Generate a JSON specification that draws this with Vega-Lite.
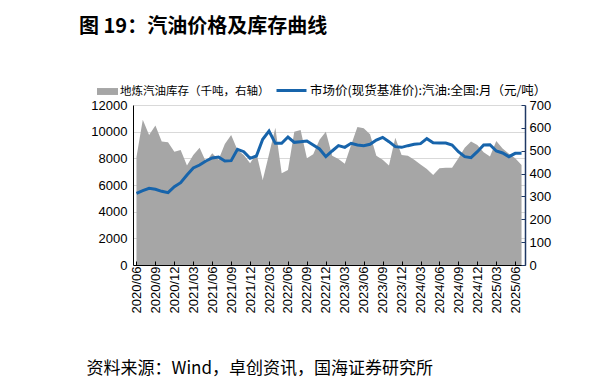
{
  "$schema": "https://vega.github.io/schema/vega-lite/v6.json",
  "width": 392,
  "height": 160,
  "autosize": {"type": "none"},
  "padding": {"left": 133, "top": 105, "right": 87, "bottom": 125},
  "background": "white",
  "config": {"view": {"stroke": null}, "font": "Liberation Sans"},
  "title": {
    "text": "图 19：汽油价格及库存曲线",
    "anchor": "start",
    "frame": "group",
    "dx": -54,
    "dy": 9,
    "offset": 46,
    "fontSize": 20,
    "font": "Noto Sans CJK SC",
    "fontWeight": "bold",
    "color": "#000000"
  },
  "data": {
    "values": [
      {"month": "2020/06", "price": 5375, "inventory": 472},
      {"month": "2020/07", "price": 5575, "inventory": 636},
      {"month": "2020/08", "price": 5750, "inventory": 569},
      {"month": "2020/09", "price": 5675, "inventory": 610},
      {"month": "2020/10", "price": 5525, "inventory": 540},
      {"month": "2020/11", "price": 5425, "inventory": 537},
      {"month": "2020/12", "price": 5875, "inventory": 496},
      {"month": "2021/01", "price": 6175, "inventory": 503},
      {"month": "2021/02", "price": 6750, "inventory": 435},
      {"month": "2021/03", "price": 7275, "inventory": 481},
      {"month": "2021/04", "price": 7500, "inventory": 513},
      {"month": "2021/05", "price": 7800, "inventory": 452},
      {"month": "2021/06", "price": 8025, "inventory": 489},
      {"month": "2021/07", "price": 8100, "inventory": 461},
      {"month": "2021/08", "price": 7800, "inventory": 529},
      {"month": "2021/09", "price": 7825, "inventory": 569},
      {"month": "2021/10", "price": 8675, "inventory": 503},
      {"month": "2021/11", "price": 8500, "inventory": 481},
      {"month": "2021/12", "price": 8000, "inventory": 445},
      {"month": "2022/01", "price": 8175, "inventory": 489},
      {"month": "2022/02", "price": 9425, "inventory": 372},
      {"month": "2022/03", "price": 10050, "inventory": 484},
      {"month": "2022/04", "price": 9125, "inventory": 601},
      {"month": "2022/05", "price": 9125, "inventory": 401},
      {"month": "2022/06", "price": 9600, "inventory": 416},
      {"month": "2022/07", "price": 9200, "inventory": 583},
      {"month": "2022/08", "price": 9250, "inventory": 591},
      {"month": "2022/09", "price": 9300, "inventory": 467},
      {"month": "2022/10", "price": 9000, "inventory": 484},
      {"month": "2022/11", "price": 8700, "inventory": 548},
      {"month": "2022/12", "price": 8125, "inventory": 583},
      {"month": "2023/01", "price": 8550, "inventory": 478},
      {"month": "2023/02", "price": 8950, "inventory": 464},
      {"month": "2023/03", "price": 8825, "inventory": 443},
      {"month": "2023/04", "price": 9125, "inventory": 525},
      {"month": "2023/05", "price": 9000, "inventory": 604},
      {"month": "2023/06", "price": 8950, "inventory": 598},
      {"month": "2023/07", "price": 9050, "inventory": 572},
      {"month": "2023/08", "price": 9375, "inventory": 478},
      {"month": "2023/09", "price": 9575, "inventory": 461},
      {"month": "2023/10", "price": 9250, "inventory": 435},
      {"month": "2023/11", "price": 8875, "inventory": 557},
      {"month": "2023/12", "price": 8825, "inventory": 481},
      {"month": "2024/01", "price": 8950, "inventory": 478},
      {"month": "2024/02", "price": 9050, "inventory": 461},
      {"month": "2024/03", "price": 9100, "inventory": 440},
      {"month": "2024/04", "price": 9475, "inventory": 420},
      {"month": "2024/05", "price": 9175, "inventory": 394},
      {"month": "2024/06", "price": 9150, "inventory": 423},
      {"month": "2024/07", "price": 9150, "inventory": 426},
      {"month": "2024/08", "price": 9000, "inventory": 426},
      {"month": "2024/09", "price": 8500, "inventory": 467},
      {"month": "2024/10", "price": 8125, "inventory": 513},
      {"month": "2024/11", "price": 8050, "inventory": 540},
      {"month": "2024/12", "price": 8500, "inventory": 525},
      {"month": "2025/01", "price": 9000, "inventory": 493},
      {"month": "2025/02", "price": 9025, "inventory": 475},
      {"month": "2025/03", "price": 8550, "inventory": 543},
      {"month": "2025/04", "price": 8400, "inventory": 510},
      {"month": "2025/05", "price": 8125, "inventory": 487},
      {"month": "2025/06", "price": 8375, "inventory": 467},
      {"month": "2025/07", "price": 8375, "inventory": 438}
    ]
  },
  "encoding": {
    "x": {
      "field": "month",
      "type": "ordinal",
      "sort": null,
      "scale": {"type": "point", "padding": 0.55},
      "axis": {
        "values": ["2020/06", "2020/09", "2020/12", "2021/03", "2021/06", "2021/09", "2021/12", "2022/03", "2022/06", "2022/09", "2022/12", "2023/03", "2023/06", "2023/09", "2023/12", "2024/03", "2024/06", "2024/09", "2024/12", "2025/03", "2025/06"],
        "labelAngle": -90,
        "labelFontSize": 13,
        "labelColor": "#000000",
        "labelFont": "Liberation Sans",
        "labelPadding": 5,
        "tickSize": -4,
        "tickColor": "#000000",
        "domainColor": "#000000",
        "grid": false,
        "zindex": 1,
        "title": "资料来源：Wind，卓创资讯，国海证券研究所",
        "titleFont": "Noto Sans CJK SC",
        "titleFontSize": 17,
        "titleFontWeight": "normal",
        "titleColor": "#000000",
        "titleAnchor": "start",
        "titleAlign": "left",
        "titleBaseline": "middle",
        "titleX": -47,
        "titleY": 103
      }
    }
  },
  "layer": [
    {
      "mark": {"type": "area", "color": "#a6a6a6"},
      "encoding": {
        "y": {
          "field": "inventory",
          "type": "quantitative",
          "scale": {"domain": [0, 700]},
          "axis": {
            "orient": "right",
            "title": null,
            "values": [0, 100, 200, 300, 400, 500, 600, 700],
            "grid": false,
            "labelFontSize": 13,
            "labelColor": "#000000",
            "labelFont": "Liberation Sans",
            "labelPadding": 8,
            "tickSize": -4,
            "tickColor": "#1f3864",
            "domainColor": "#1f3864",
            "domainWidth": 1.5,
            "zindex": 1
          }
        },
        "fill": {
          "datum": "地炼汽油库存（千吨，右轴）",
          "type": "nominal",
          "scale": {"range": ["#a6a6a6"]},
          "legend": {
            "orient": "none",
            "legendX": -36,
            "legendY": -24,
            "title": null,
            "symbolType": "M-1,-0.33H1V0.33H-1Z",
            "symbolSize": 441,
            "symbolStrokeWidth": 0,
            "labelFont": "Noto Sans CJK SC",
            "labelFontSize": 11.5,
            "labelColor": "#000000",
            "labelLimit": 400,
            "labelOffset": 2
          }
        }
      }
    },
    {
      "mark": {"type": "line", "strokeWidth": 3},
      "encoding": {
        "y": {
          "field": "price",
          "type": "quantitative",
          "scale": {"domain": [0, 12000]},
          "axis": {
            "orient": "left",
            "title": null,
            "values": [0, 2000, 4000, 6000, 8000, 10000, 12000],
            "grid": true,
            "gridColor": "#d9d9d9",
            "gridWidth": 1,
            "ticks": false,
            "labelFontSize": 13,
            "labelColor": "#000000",
            "labelFont": "Liberation Sans",
            "labelPadding": 6,
            "domainColor": "#000000",
            "format": "d"
          }
        },
        "stroke": {
          "datum": "市场价(现货基准价):汽油:全国:月（元/吨）",
          "type": "nominal",
          "scale": {"range": ["#1764ab"]},
          "legend": {
            "orient": "none",
            "legendX": 142,
            "legendY": -31,
            "title": null,
            "symbolType": "stroke",
            "symbolSize": 900,
            "symbolStrokeWidth": 3,
            "labelFont": "Noto Sans CJK SC",
            "labelFontSize": 12.5,
            "labelColor": "#000000",
            "labelLimit": 400,
            "labelOffset": 2
          }
        }
      }
    }
  ],
  "resolve": {"scale": {"y": "independent", "fill": "independent", "stroke": "independent"}}
}
